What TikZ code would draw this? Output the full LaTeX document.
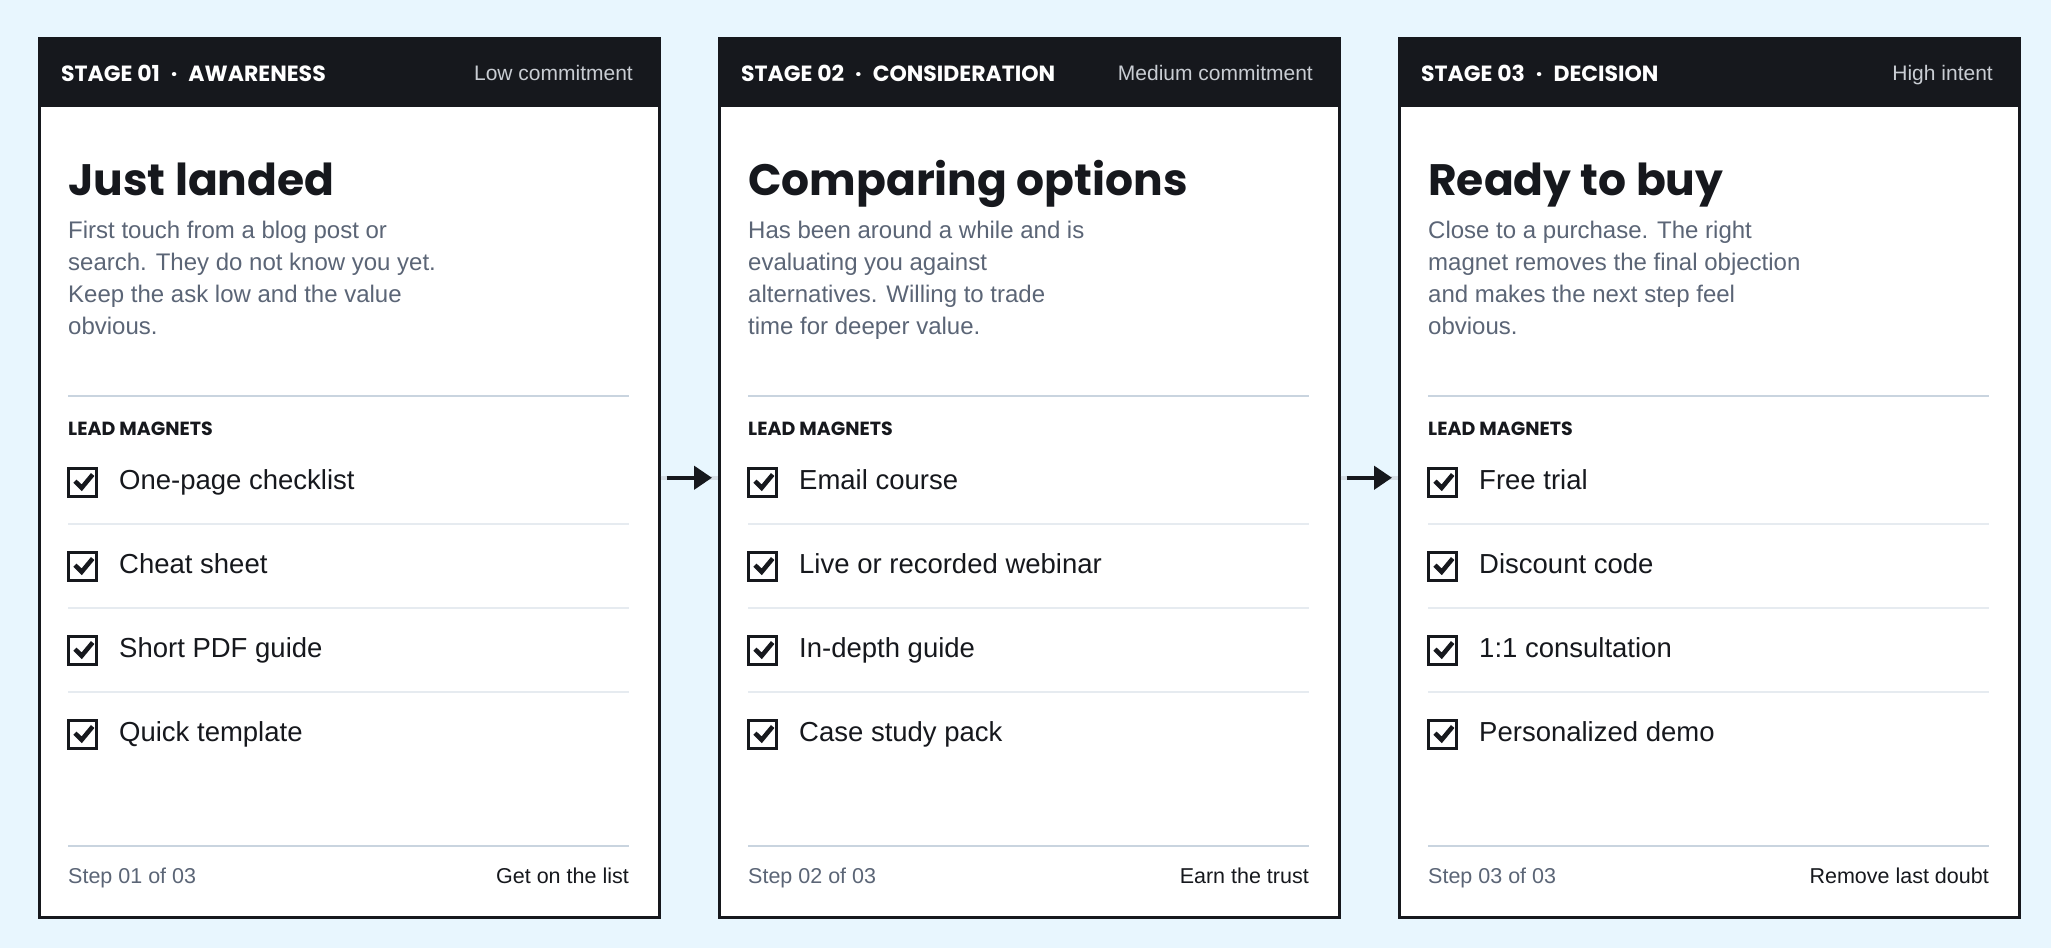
\documentclass[tikz,border=0pt]{standalone}
\usepackage{fontspec}
\setmainfont{Liberation Sans}
\newfontfamily\popfont{Poppins}
\usetikzlibrary{positioning}
\usetikzlibrary{arrows.meta}
\definecolor{pagebg}{HTML}{E8F6FE}
\definecolor{ink}{HTML}{16181D}
\definecolor{slate}{HTML}{5B6576}
\definecolor{headgray}{HTML}{C9CDD3}
\definecolor{rulegray}{HTML}{C9D4DF}
\definecolor{softgray}{HTML}{E6EBF0}
\definecolor{linkgray}{HTML}{D3DCE4}
\tikzset{card/.style={draw=ink,line width=2.5pt,fill=white,minimum width=620pt,minimum height=879pt,inner sep=0pt,anchor=north west},
  head/.style={fill=ink,minimum width=620pt,minimum height=70pt,inner sep=0pt,anchor=north west},
  stagetxt/.style={text=white,font=\popfont\bfseries\fontsize{22}{25}\selectfont,anchor=base west,inner sep=0pt},
  moodtxt/.style={text=headgray,font=\fontsize{21}{25}\selectfont,anchor=base east,inner sep=0pt},
  titletxt/.style={text=ink,font=\popfont\bfseries\fontsize{44}{50}\selectfont,anchor=base west,inner sep=0pt},
  desctxt/.style={text=slate,font=\fontsize{24}{32}\selectfont,align=left,anchor=base west,inner sep=0pt},
  leadtxt/.style={text=ink,font=\popfont\bfseries\fontsize{19}{22}\selectfont,anchor=base west,inner sep=0pt},
  itemtxt/.style={text=ink,font=\fontsize{27.5}{30}\selectfont,anchor=base west,inner sep=0pt},
  steptxt/.style={text=slate,font=\fontsize{21.5}{25}\selectfont,anchor=base west,inner sep=0pt},
  goaltxt/.style={text=ink,font=\fontsize{21.5}{25}\selectfont,anchor=base east,inner sep=0pt},
  tickbox/.style={draw=ink,line width=3pt,minimum size=28pt,inner sep=0pt},
  tick/.style={draw=ink,line width=4.5pt,miter limit=3},
  mainrule/.style={draw=rulegray,line width=2pt},
  softrule/.style={draw=softgray,line width=1.5pt},
  linkline/.style={draw=linkgray,line width=4.5pt},
  flow/.style={draw=ink,line width=4.5pt,-{Triangle[length=18pt,width=23pt]},shorten <=6pt,shorten >=6pt}}

% one stage card: name, shift, stage, mood, title, text, step, goal, magnets
\newcommand\stagecard[9]{%
  \begin{scope}[xshift=#2pt]
    \node[card] (#1) at (38,37) {};
    \node[head] (#1-head) at (38,37) {};
    \node[stagetxt] (#1-stage) at (61,81) {#3};
    \node[moodtxt] (#1-mood) at (633,80.5) {#4};
    \node[titletxt] (#1-title) at (68,195) {#5};
    \node[desctxt] (#1-text) at (68,334) {#6};
    \draw[mainrule] (68,396) -- (629,396);
    \node[leadtxt] (#1-lead) at (68,435) {LEAD MAGNETS};
    \foreach \itm [count=\r] in {#9} {
      \node[tickbox] (#1-box\r) at (82.5,{398+84*\r}) {};
      \draw[tick] (#1-box\r.center) ++(-7.5,-0.8) -- ++(6.7,6.6) -- ++(11,-13.3);
      \node[itemtxt] (#1-item\r) at (119,{405+84*\r}) {\itm};
      \ifnum\r<4 \draw[softrule] (68,{440+84*\r}) -- (629,{440+84*\r}); \fi
    }
    \draw[mainrule] (68,846) -- (629,846);
    \node[steptxt] (#1-step) at (68,883) {#7};
    \node[goaltxt] (#1-goal) at (629,883) {#8};
  \end{scope}}

\begin{document}
\begin{tikzpicture}[x=1pt,y=-1pt]
  \fill[pagebg] (0,0) rectangle (2051,948);
  \useasboundingbox (0,0) rectangle (2051,948);

  \stagecard{s1}{0}{STAGE 01\hspace{11pt}·\hspace{11pt}AWARENESS}{Low commitment}{Just landed}
    {First touch from a blog post or\\search. They do not know you yet.\\Keep the ask low and the value\\obvious.}
    {Step 01 of 03}{Get on the list}
    {One-page checklist,Cheat sheet,Short PDF guide,Quick template}
  \stagecard{s2}{680}{STAGE 02\hspace{11pt}·\hspace{11pt}CONSIDERATION}{Medium commitment}{Comparing options}
    {Has been around a while and is\\evaluating you against\\alternatives. Willing to trade\\time for deeper value.}
    {Step 02 of 03}{Earn the trust}
    {Email course,Live or recorded webinar,In-depth guide,Case study pack}
  \stagecard{s3}{1360}{STAGE 03\hspace{11pt}·\hspace{11pt}DECISION}{High intent}{Ready to buy}
    {Close to a purchase. The right\\magnet removes the final objection\\and makes the next step feel\\obvious.}
    {Step 03 of 03}{Remove last doubt}
    {Free trial,Discount code,1:1 consultation,Personalized demo}

  % links between the stages
  \draw[linkline] (s1.east) -- (s2.west);
  \draw[flow] (s1.east) -- (s2.west);
  \draw[linkline] (s2.east) -- (s3.west);
  \draw[flow] (s2.east) -- (s3.west);
\end{tikzpicture}
\end{document}
